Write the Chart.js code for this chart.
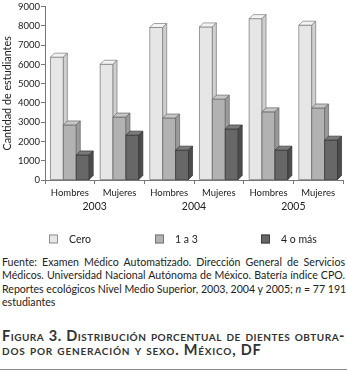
<!DOCTYPE html>
<html>
<head>
<meta charset="utf-8">
<script src="https://cdn.jsdelivr.net/npm/chart.js@4.4.0/dist/chart.umd.min.js"></script>
<style>
  html, body { margin: 0; padding: 0; background: #fff; }
  body { width: 347px; height: 381px; position: relative; overflow: hidden; font-family: Lato, "Open Sans", sans-serif; color: #222; }
  #wrap { position: absolute; left: 0; top: 0; width: 347px; height: 252px; }
  #note { position: absolute; left: 2px; top: 256px; width: 343px; font-size: 10.6px; line-height: 13.3px; color: #222; }
  #note div { text-align: justify; text-align-last: justify; white-space: nowrap; }
  #note div.last { text-align-last: left; }
  #title { position: absolute; left: 2px; top: 329px; width: 343px; font-size: 14.5px; line-height: 13.5px; letter-spacing: 0.8px; font-weight: bold; font-variant: small-caps; color: #333; }
  #title div.l1 { text-align: justify; text-align-last: justify; white-space: nowrap; letter-spacing: 0.5px; }
  #rule { position: absolute; left: 0; top: 369px; width: 347px; height: 1px; background: #8a8a8a; }
</style>
</head>
<body>
<div id="wrap"><canvas id="c" width="347" height="252"></canvas></div>
<div id="note">
  <div>Fuente: Examen Médico Automatizado. Dirección General de Servicios</div>
  <div>Médicos. Universidad Nacional Autónoma de México. Batería índice CPO.</div>
  <div>Reportes ecológicos Nivel Medio Superior, 2003, 2004 y 2005; <i>n</i> = 77 191</div>
  <div class="last">estudiantes</div>
</div>
<div id="title">
  <div class="l1">Figura 3. Distribución porcentual de dientes obtura-</div>
  <div>dos por generación y sexo. México, DF</div>
</div>
<div id="rule"></div>
<script>
// ---- data ----
const categories = ['Hombres', 'Mujeres', 'Hombres', 'Mujeres', 'Hombres', 'Mujeres'];
const years = ['2003', '2004', '2005'];
const seriesNames = ['Cero', '1 a 3', '4 o más'];
const cero = [6380, 6010, 7920, 7950, 8380, 8040];
const unoATres = [2860, 3270, 3220, 4200, 3540, 3740];
const cuatroOMas = [1300, 2330, 1550, 2650, 1550, 2070];
const yTicks = [0, 1000, 2000, 3000, 4000, 5000, 6000, 7000, 8000, 9000];

// ---- styles ----
const fronts = ['#e6e6e6', '#b2b2b2', '#676767'];
const tops   = ['#f3f3f3', '#c6c6c6', '#7a7a7a'];
const sides  = ['#cfcfcf', '#9a9a9a', '#4c4c4c'];
const edges  = ['#7a7a7a', '#666666', '#333333'];
const DEPTH = 4;
const FONT = 'Lato';
const LEGEND_X = [49, 155, 261];
const LEGEND_Y = 239;

const bar3d = {
  id: 'bar3d',
  afterDatasetsDraw(chart) {
    const ctx = chart.ctx;
    ctx.save();
    ctx.lineWidth = 0.7;
    ctx.lineJoin = 'round';
    chart.data.datasets.forEach((ds, i) => {
      const meta = chart.getDatasetMeta(i);
      meta.data.forEach(el => {
        const { x, y, base, width } = el.getProps(['x', 'y', 'base', 'width'], true);
        const l = x - width / 2, r = x + width / 2, d = DEPTH;
        ctx.strokeStyle = edges[i];
        ctx.fillStyle = fronts[i];
        ctx.fillRect(l, y, r - l, base - y);
        ctx.strokeRect(l, y, r - l, base - y);
        ctx.beginPath();
        ctx.moveTo(l, y); ctx.lineTo(l + d, y - d); ctx.lineTo(r + d, y - d); ctx.lineTo(r, y); ctx.closePath();
        ctx.fillStyle = tops[i]; ctx.fill(); ctx.stroke();
        ctx.beginPath();
        ctx.moveTo(r, y); ctx.lineTo(r + d, y - d); ctx.lineTo(r + d, base - d); ctx.lineTo(r, base); ctx.closePath();
        ctx.fillStyle = sides[i]; ctx.fill(); ctx.stroke();
      });
    });
    ctx.restore();
  }
};

const spreadLegend = {
  id: 'spreadLegend',
  afterDraw(chart) {
    const ctx = chart.ctx;
    ctx.save();
    ctx.font = '10.5px ' + FONT;
    ctx.textBaseline = 'middle';
    ctx.textAlign = 'left';
    chart.data.datasets.forEach((ds, i) => {
      const bx = LEGEND_X[i], s = 9;
      ctx.fillStyle = fronts[i];
      ctx.strokeStyle = edges[i];
      ctx.lineWidth = 0.8;
      ctx.fillRect(bx, LEGEND_Y - s / 2, s, s);
      ctx.strokeRect(bx + 0.5, LEGEND_Y - s / 2 + 0.5, s - 1, s - 1);
      ctx.fillStyle = '#222';
      ctx.fillText(ds.label, bx + s + 11, LEGEND_Y + 0.5);
    });
    ctx.restore();
  }
};

const values = [cero, unoATres, cuatroOMas];

new Chart(document.getElementById('c'), {
  type: 'bar',
  data: {
    labels: categories,
    datasets: values.map((v, i) => ({
      label: seriesNames[i],
      data: v,
      backgroundColor: fronts[i],
      borderColor: edges[i],
      borderWidth: 0.8,
      barPercentage: 1.0,
      categoryPercentage: 0.78,
      xAxisID: 'x'
    }))
  },
  options: {
    responsive: false,
    animation: false,
    events: [],
    layout: { padding: { left: 1, right: 4, top: 0, bottom: 40 } },
    plugins: {
      tooltip: { enabled: false },
      legend: { display: false }
    },
    scales: {
      x: {
        type: 'category',
        offset: true,
        grid: { display: true, drawOnChartArea: false, drawTicks: true, tickLength: 4, color: '#777', offset: true },
        border: { display: true, color: '#777' },
        ticks: { color: '#222', font: { family: FONT, size: 9.5 }, padding: 3, maxRotation: 0, autoSkip: false }
      },
      x2: {
        type: 'category',
        labels: years,
        position: 'bottom',
        offset: true,
        grid: { display: false, drawTicks: false },
        border: { display: false },
        ticks: { color: '#222', font: { family: FONT, size: 10.5 }, padding: -1, maxRotation: 0 }
      },
      y: {
        min: 0, max: 9000,
        afterBuildTicks(scale) { scale.ticks = yTicks.map(v => ({ value: v })); },
        grid: { display: true, drawOnChartArea: false, drawTicks: true, tickLength: 4, color: '#777' },
        border: { display: true, color: '#777' },
        ticks: { color: '#222', font: { family: FONT, size: 9.5 }, padding: 1, callback: v => String(v) },
        title: { display: true, text: 'Cantidad de estudiantes', color: '#222', font: { family: FONT, size: 10.8 }, padding: { top: 0, bottom: 3 } }
      }
    }
  },
  plugins: [bar3d, spreadLegend]
});
</script>
</body>
</html>
